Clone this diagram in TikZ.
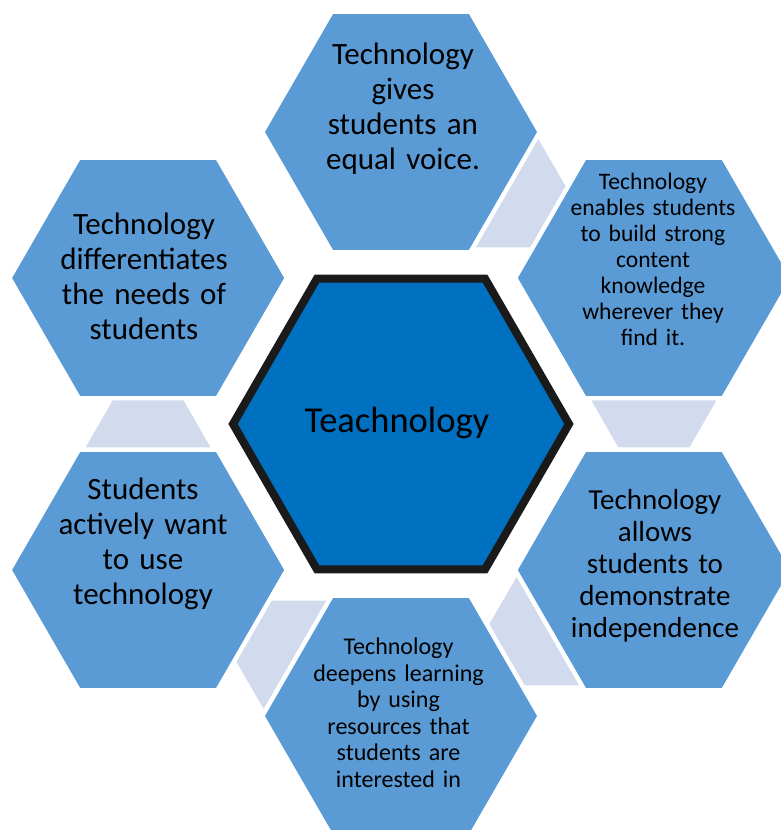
\documentclass[tikz,border=0pt]{standalone}
\usepackage{fontspec}
\setmainfont{Carlito}
\usetikzlibrary{calc}
\definecolor{outerblue}{HTML}{5B9BD5}
\definecolor{coreblue}{HTML}{0070C0}
\definecolor{linkblue}{HTML}{D1DBED}
\definecolor{coreline}{HTML}{1A1A1A}
\begin{document}
\begin{tikzpicture}[x=1pt,y=1pt,
  outerhex/.style={fill=outerblue},
  linkshape/.style={fill=linkblue},
  corehex/.style={fill=coreblue,draw=coreline,line width=8pt,line join=miter},
  hextext/.style={text=black,text width=260pt,align=center,anchor=base,inner sep=0pt},
  bigtext/.style={hextext,font=\fontsize{31}{35}\selectfont},
  midtext/.style={hextext,font=\fontsize{29}{32}\selectfont},
  smalltext/.style={hextext,font=\fontsize{23.6}{26}\selectfont},
  smalltextb/.style={hextext,font=\fontsize{24}{26.5}\selectfont},
  coretext/.style={text=black,anchor=base,inner sep=0pt,font=\fontsize{36.5}{44}\selectfont}]
\useasboundingbox (0,0) rectangle (781,830);
\coordinate (C) at (401,406);
\foreach \n/\a in {hT/90,hUR/30,hLR/-30,hB/-90,hLL/210,hUL/150}
  \coordinate (\n) at ($(C)+(\a:292)$);
% outer hexagons
\foreach \n in {hT,hUR,hLR,hB,hLL,hUL}
  \fill[outerhex,shift={(\n)}] (0:136) -- (60:136) -- (120:136) -- (180:136) -- (240:136) -- (300:136) -- cycle;
% link shapes between neighbouring hexagons
\foreach \f/\t/\r in {hT/hUR/-30,hUR/hLR/-90,hLR/hB/-150,hB/hLL/150,hLL/hUL/90}
  \fill[linkshape,shift={($(\f)!0.5!(\t)$)},rotate=\r] (-23.5,-62.5) -- (23.5,-35.5) -- (23.5,35.5) -- (-23.5,62.5) -- cycle;
% central hexagon
\draw[corehex,shift={(C)}] (0:168) -- (60:168) -- (120:168) -- (180:168) -- (240:168) -- (300:168) -- cycle;
% texts
\node[coretext] (core) at (397,397) {Teachnology};
\node[bigtext] (tT) at (403,765) {Technology\\gives\\students an\\equal voice.};
\node[bigtext] (tUL) at (144,595) {Technology\\differentiates\\the needs of\\students};
\node[smalltext] (tUR) at (653,640) {Technology\\enables students\\to build strong\\content\\knowledge\\wherever they\\find it.};
\node[midtext] (tLR) at (655,320) {Technology\\allows\\students to\\demonstrate\\independence};
\node[smalltextb] (tB) at (398.5,175) {Technology\\deepens learning\\by using\\resources that\\students are\\interested in};
\node[bigtext] (tLL) at (143,330) {Students\\actively want\\to use\\technology};
\end{tikzpicture}
\end{document}
